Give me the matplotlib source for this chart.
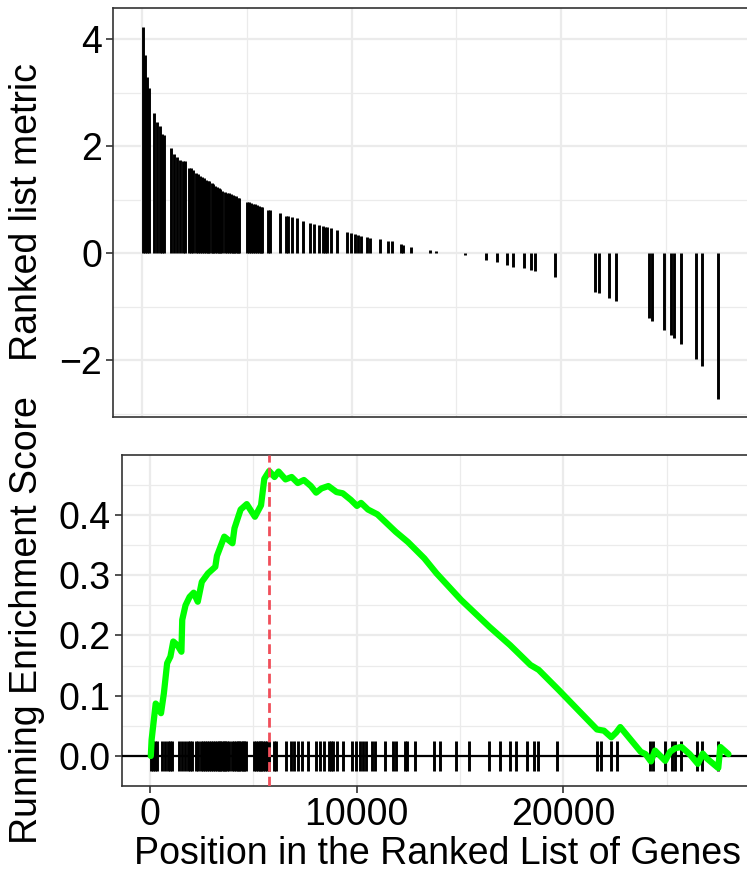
import matplotlib
matplotlib.use('Agg')
from matplotlib import pyplot as plt
from matplotlib.ticker import MultipleLocator

plt.rcParams['font.family'] = ['Liberation Sans', 'DejaVu Sans']

# genes of the set: position in the ranked list and their ranked list metric
hit_pos = [30, 140, 230, 320,
           590, 720, 850, 970, 1070,
           1400, 1540, 1680, 1820, 1950, 2040,
           2230, 2330, 2450, 2560, 2660, 2760, 2860, 2960, 3050, 3150, 3220, 3320, 3390,
           3480, 3560, 3650, 3720, 3830, 3960, 4060, 4160, 4240, 4320, 4400, 4480, 4560, 4640,
           5030, 5120, 5210, 5300, 5390, 5480, 5570, 5660, 5740,
           6000, 6120, 6593, 6846, 6950, 7138, 7372, 7663, 8014, 8208, 8442, 8637, 8750,
           8831, 9026, 9318, 9765, 9960, 10155, 10300, 10447, 10739, 10900, 11362, 11752,
           11907, 12336, 12433, 12842, 13738, 14049, 14789, 15431, 16425, 16931, 17398,
           17710, 18235, 18566, 18761, 19695, 21603, 21798, 22285, 22616, 24173, 24329,
           24913, 25244, 25381, 25692, 26451, 26704, 27483]
hit_metric = [4.22, 3.70, 3.30, 3.09,
              2.61, 2.45, 2.37, 2.22, 2.20,
              1.96, 1.86, 1.80, 1.75, 1.73, 1.72,
              1.60, 1.60, 1.55, 1.50, 1.48, 1.45, 1.43, 1.40, 1.37, 1.35, 1.34, 1.31, 1.29,
              1.26, 1.24, 1.22, 1.20, 1.17, 1.15, 1.13, 1.12, 1.10, 1.09, 1.07, 1.06, 1.04, 1.03,
              0.96, 0.95, 0.94, 0.92, 0.91, 0.90, 0.88, 0.87, 0.87,
              0.81, 0.80, 0.75, 0.70, 0.69, 0.67, 0.65, 0.61, 0.57, 0.55, 0.52, 0.50, 0.49,
              0.48, 0.47, 0.43, 0.39, 0.37, 0.36, 0.34, 0.33, 0.31, 0.29, 0.27, 0.22,
              0.22, 0.17, 0.16, 0.12, 0.06, 0.04, 0.01, -0.03, -0.12, -0.17, -0.22,
              -0.25, -0.28, -0.32, -0.34, -0.45, -0.73, -0.75, -0.83, -0.89, -1.21, -1.27,
              -1.44, -1.52, -1.58, -1.69, -1.98, -2.10, -2.73]

# running enrichment score
es_pos = [40, 79, 276, 395, 533, 672, 830, 988, 1126, 1323, 1521, 1560, 1718, 1916, 2113,
          2311, 2508, 2805, 3160, 3239, 3594, 3990, 4088, 4385, 4681, 5076, 5372, 5530,
          5767, 6024, 6221, 6557, 6853, 7150, 7446, 7782, 8038, 8295, 8631, 9026, 9322,
          9717, 10013, 10211, 10547, 11001, 11890, 12482, 13272, 13865, 15050, 16432,
          17420, 18407, 18802, 19790, 20777, 21626, 21962, 22318, 22555, 22752, 23740,
          23977, 24234, 24432, 24925, 25162, 25419, 25715, 26110, 26505, 26742, 26940,
          27492, 27591, 27986]
es_val = [0.0, 0.027, 0.087, 0.082, 0.071, 0.104, 0.154, 0.165, 0.190, 0.184, 0.173, 0.226,
          0.250, 0.264, 0.271, 0.256, 0.289, 0.303, 0.314, 0.332, 0.364, 0.353, 0.378,
          0.409, 0.418, 0.397, 0.416, 0.460, 0.473, 0.463, 0.472, 0.459, 0.463, 0.453,
          0.458, 0.448, 0.437, 0.444, 0.448, 0.438, 0.436, 0.425, 0.415, 0.420, 0.409,
          0.401, 0.372, 0.355, 0.328, 0.303, 0.259, 0.214, 0.184, 0.151, 0.143, 0.109,
          0.074, 0.044, 0.042, 0.031, 0.039, 0.048, 0.007, 0.003, -0.009, 0.009, -0.008,
          0.007, 0.013, 0.015, 0.003, -0.013, 0.004, -0.004, -0.020, 0.015, 0.003]
peak_pos = 5767

W, H = 747, 871
fig = plt.figure(figsize=(W / 100, H / 100), dpi=100)
FS = 27
GRID = '#EBEBEB'
FRAME = '#333333'


def px_axes(left, top, right, bottom):
    return fig.add_axes([left / W, 1 - bottom / H, (right - left) / W, (bottom - top) / H])


def style(ax):
    ax.set_facecolor('white')
    ax.set_axisbelow(True)
    ax.grid(which='major', color=GRID, lw=1.6)
    ax.grid(which='minor', color=GRID, lw=0.9)
    ax.xaxis.set_major_locator(MultipleLocator(10000))
    ax.xaxis.set_minor_locator(MultipleLocator(5000))
    for s in ax.spines.values():
        s.set_color(FRAME)
        s.set_linewidth(1.2)
    ax.tick_params(which='major', length=5, width=1.2, color=FRAME, labelsize=FS,
                   labelcolor='black', pad=3)
    ax.tick_params(which='minor', length=0)


# top panel: ranked list metric
ax1 = px_axes(113, 8, 758, 417)
style(ax1)
ax1.vlines(hit_pos, 0, hit_metric, color='black', lw=2.1)
ax1.set_xlim(-1384, 29389)
ax1.set_ylim(-3.06, 4.58)
ax1.yaxis.set_major_locator(MultipleLocator(2))
ax1.yaxis.set_minor_locator(MultipleLocator(1))
ax1.tick_params(axis='x', which='both', length=0, labelbottom=False)

# bottom panel: running enrichment score
ax2 = px_axes(122, 455, 758, 786)
style(ax2)
ax2.vlines(hit_pos, -0.025, 0.025, color='black', lw=2.1, zorder=2)
ax2.axhline(0, color='black', lw=1.6, zorder=3)
ax2.plot(es_pos, es_val, color='#00FF00', lw=4.5, solid_joinstyle='round',
         solid_capstyle='round', zorder=4)
ax2.axvline(peak_pos, color='#F04E5A', lw=2, dashes=(3.5, 1.8), zorder=5)
ax2.set_xlim(-1354, 29415)
ax2.set_ylim(-0.0498, 0.4995)
ax2.yaxis.set_major_locator(MultipleLocator(0.1))
ax2.yaxis.set_minor_locator(MultipleLocator(0.05))
ax2.yaxis.set_major_formatter(lambda v, p: f'{v:.1f}')
ax2.xaxis.set_major_formatter(lambda v, p: f'{v:.0f}')

fig.text(27 / W, 1 - 212 / H, 'Ranked list metric', rotation=90, ha='center',
         va='center', fontsize=FS)
fig.text(27 / W, 1 - 620 / H, 'Running Enrichment Score', rotation=90, ha='center',
         va='center', fontsize=FS)
fig.text(438 / W, 1 - 864 / H, 'Position in the Ranked List of Genes', ha='center',
         va='baseline', fontsize=FS)

fig.savefig('out.png', dpi=100)
